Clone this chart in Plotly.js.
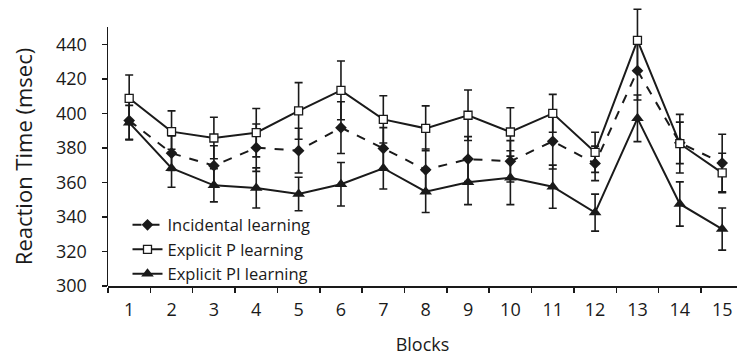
<!DOCTYPE html>
<html>
<head>
<meta charset="utf-8">
<script src="https://cdn.plot.ly/plotly-3.0.1.min.js"></script>
<style>html,body{margin:0;padding:0;background:#fff;}#chart{width:737px;height:363px;}</style>
</head>
<body>
<div id="chart"></div>
<script>
const blocks = [1,2,3,4,5,6,7,8,9,10,11,12,13,14,15];
const seriesNames = ["Incidental learning", "Explicit P learning", "Explicit PI learning"];
const incidental = [395.8, 376.9, 369.7, 380.1, 378.4, 391.7, 379.7, 367.3, 373.5, 372.2, 383.8, 371.0, 424.7, 382.9, 371.2];
const incidentalErr = [10.8, 10, 11.5, 13.7, 13, 15, 12, 12, 13, 12, 16, 10, 17, 12, 16.7];
const explicitP = [408.7, 389.4, 385.7, 388.8, 401.4, 413.3, 396.5, 391.3, 398.9, 389.2, 400.0, 377.4, 442.3, 382.4, 365.5];
const explicitPErr = [13.5, 12, 12, 14, 16.4, 17, 13.7, 13, 14.6, 14, 11, 11.6, 18, 17, 11.4];
const explicitPI = [394.6, 368.2, 358.3, 356.8, 353.3, 358.9, 368.2, 354.6, 360.1, 362.7, 357.5, 342.5, 397.1, 347.5, 333.0];
const explicitPIErr = [10, 11, 9.6, 11.6, 9.7, 12.6, 12, 12, 13, 15.6, 12.5, 10.7, 13.5, 12.8, 12.2];
const yTicks = [300, 320, 340, 360, 380, 400, 420, 440];
const yAxisMax = 450;   // end of the drawn axis
const yDataMax = 461;   // extra headroom so the tall error bar is not clipped

const ink = "#1a1a1a";
function err(arr){ return {type:"data", array:arr, visible:true, color:ink, thickness:1.6, width:4}; }

const traces = [
  {x: blocks, y: incidental, name: seriesNames[0], type:"scatter", mode:"lines+markers", cliponaxis:false,
   line:{color:ink, width:2, dash:"dash"},
   marker:{symbol:"diamond", size:9, color:ink, line:{color:ink, width:0}},
   error_y: err(incidentalErr)},
  {x: blocks, y: explicitP, name: seriesNames[1], type:"scatter", mode:"lines+markers", cliponaxis:false,
   line:{color:ink, width:2},
   marker:{symbol:"square", size:8, color:"#fff", line:{color:ink, width:1.3}},
   error_y: err(explicitPErr)},
  {x: blocks, y: explicitPI, name: seriesNames[2], type:"scatter", mode:"lines+markers", cliponaxis:false,
   line:{color:ink, width:2},
   marker:{symbol:"triangle-up", size:11, color:ink, line:{color:ink, width:0}},
   error_y: err(explicitPIErr)},
  // empty helper trace so the visible y axis (yaxis2) is built
  {x: [null], y: [null], yaxis:"y2", type:"scatter", mode:"markers", showlegend:false, hoverinfo:"skip"}
];

const layout = {
  width:737, height:363,
  margin:{l:108, r:0, t:8, b:77},
  paper_bgcolor:"#fff", plot_bgcolor:"rgba(0,0,0,0)",
  font:{family:"Open Sans", color:ink, size:16},
  showlegend:true,
  legend:{x:0.031, y:0.282, xanchor:"left", yanchor:"top", bgcolor:"rgba(0,0,0,0)",
          font:{size:16.5, family:"Open Sans", color:ink}, tracegroupgap:0},
  xaxis:{range:[0.5, 15.35], tickmode:"array", tickvals:blocks, ticktext:blocks.map(String),
         ticks:"", showgrid:false, zeroline:false, showline:true, linecolor:ink, linewidth:1.5,
         ticklabelstandoff:7, tickfont:{size:18},
         minor:{tick0:0.5, dtick:1, ticks:"outside", ticklen:5, tickwidth:1.5, tickcolor:ink, showgrid:false},
         title:{text:"Blocks", font:{size:18}, standoff:18}},
  yaxis:{range:[300, yDataMax], domain:[0,1], showticklabels:false, ticks:"", showgrid:false,
         zeroline:false, showline:false},
  yaxis2:{range:[300, yAxisMax], domain:[0, (yAxisMax-300)/(yDataMax-300)], anchor:"x",
         tickmode:"array", tickvals:yTicks, ticks:"outside", ticklen:5, tickwidth:1.5,
         tickcolor:ink, showgrid:false, zeroline:false, showline:true, linecolor:ink, linewidth:1.5,
         ticklabelstandoff:11, tickfont:{size:18},
         title:{text:"Reaction Time (msec)", font:{size:22}, standoff:17}}
};

Plotly.newPlot("chart", traces, layout, {displayModeBar:false, staticPlot:true});
</script>
</body>
</html>
